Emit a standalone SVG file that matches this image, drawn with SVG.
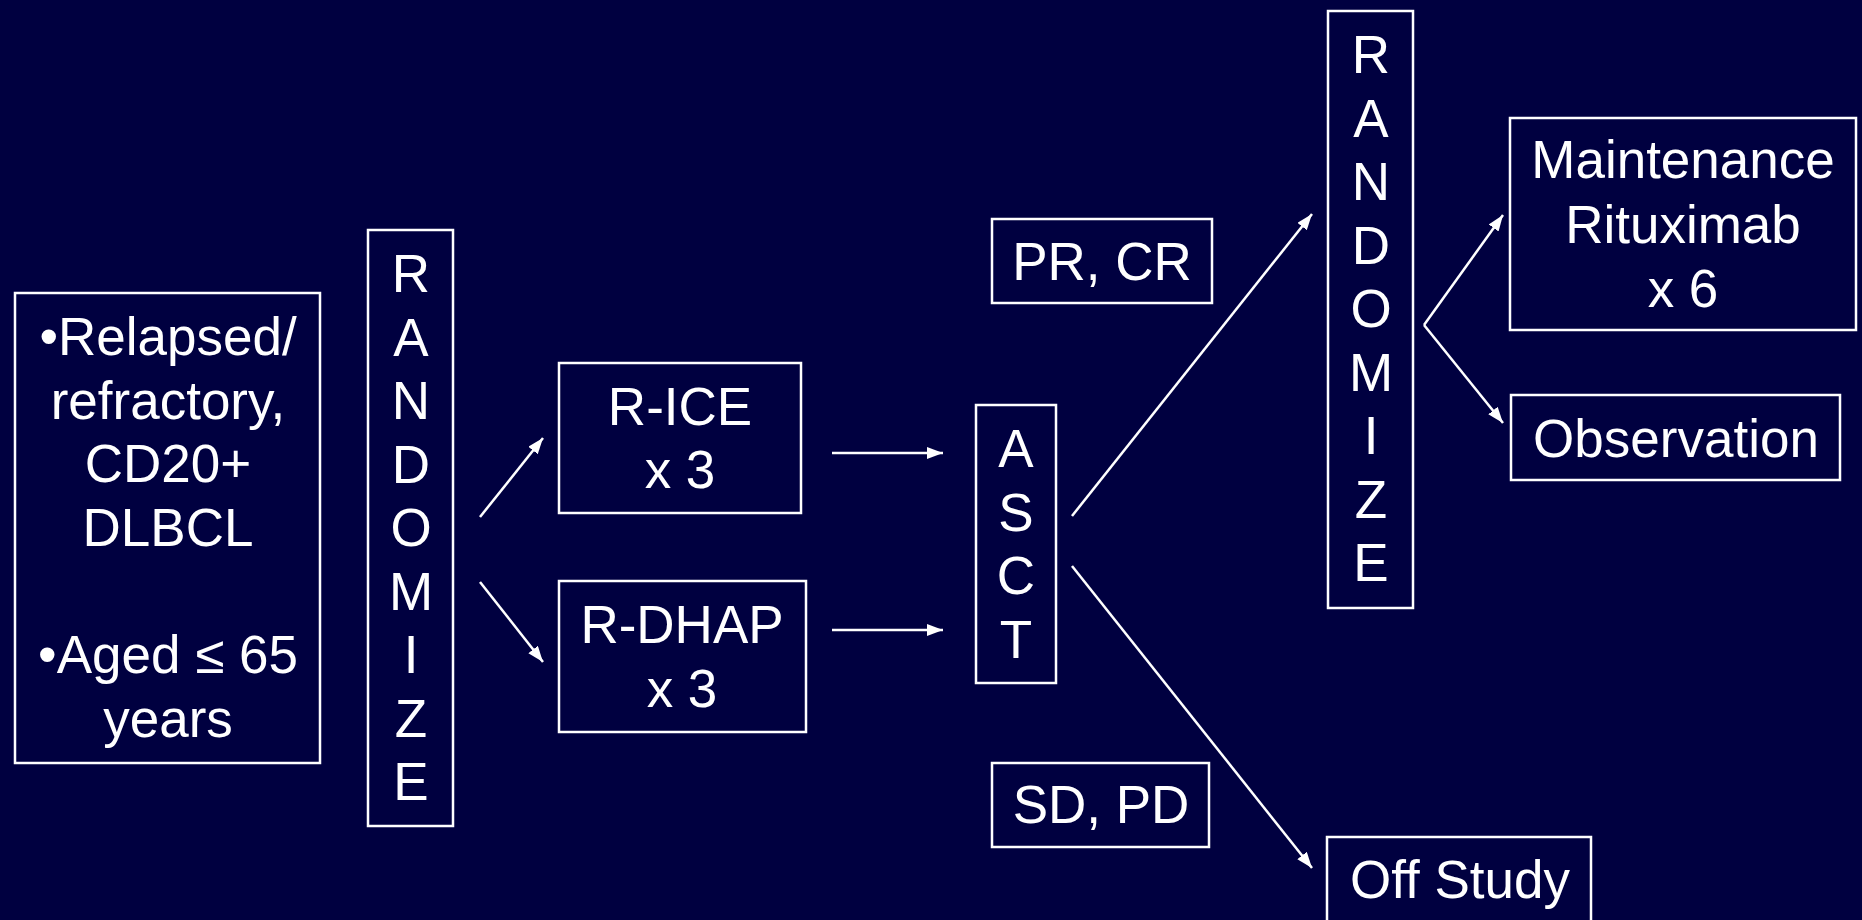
<svg xmlns="http://www.w3.org/2000/svg" width="1862" height="920" viewBox="0 0 1862 920">
<defs>
<style>
.box{fill:none;stroke:#ffffff;stroke-width:2.5}
.t{font-family:"Liberation Sans",Arial,sans-serif;font-size:53px;fill:#ffffff;text-anchor:middle}
.c{stroke:#ffffff;stroke-width:2.5;fill:none}
</style>
<marker id="ah" markerUnits="userSpaceOnUse" markerWidth="18" markerHeight="14" refX="16" refY="6" orient="auto">
<path d="M0,0 L16,6 L0,12 z" fill="#ffffff"/>
</marker>
</defs>
<rect x="0" y="0" width="1862" height="920" fill="#000040"/>
<g id="eligibility">
<rect class="box" x="15" y="293" width="305" height="470"/>
<text class="t" x="168" y="355">•Relapsed/</text>
<text class="t" x="168" y="419">refractory,</text>
<text class="t" x="168" y="482">CD20+</text>
<text class="t" x="168" y="546">DLBCL</text>
<text class="t" x="168" y="673">•Aged ≤ 65</text>
<text class="t" x="168" y="737">years</text>
</g>
<g id="randomize1">
<rect class="box" x="368" y="230" width="85" height="596"/>
<text class="t" x="411" y="292">R</text>
<text class="t" x="411" y="355.5">A</text>
<text class="t" x="411" y="419">N</text>
<text class="t" x="411" y="482.5">D</text>
<text class="t" x="411" y="546">O</text>
<text class="t" x="411" y="609.5">M</text>
<text class="t" x="411" y="673">I</text>
<text class="t" x="411" y="736.5">Z</text>
<text class="t" x="411" y="800">E</text>
</g>
<g id="rice">
<rect class="box" x="559" y="363" width="242" height="150"/>
<text class="t" x="680" y="425">R-ICE</text>
<text class="t" x="680" y="488">x 3</text>
</g>
<g id="rdhap">
<rect class="box" x="559" y="581" width="247" height="151"/>
<text class="t" x="682" y="643">R-DHAP</text>
<text class="t" x="682" y="707">x 3</text>
</g>
<g id="asct">
<rect class="box" x="976" y="405" width="80" height="278"/>
<text class="t" x="1016" y="467">A</text>
<text class="t" x="1016" y="530.5">S</text>
<text class="t" x="1016" y="594">C</text>
<text class="t" x="1016" y="657.5">T</text>
</g>
<g id="prcr">
<rect class="box" x="992" y="219" width="220" height="84"/>
<text class="t" x="1102" y="280">PR, CR</text>
</g>
<g id="sdpd">
<rect class="box" x="992" y="763" width="217" height="84"/>
<text class="t" x="1101" y="823">SD, PD</text>
</g>
<g id="randomize2">
<rect class="box" x="1328" y="11" width="85" height="597"/>
<text class="t" x="1371" y="73">R</text>
<text class="t" x="1371" y="136.5">A</text>
<text class="t" x="1371" y="200">N</text>
<text class="t" x="1371" y="263.5">D</text>
<text class="t" x="1371" y="327">O</text>
<text class="t" x="1371" y="390.5">M</text>
<text class="t" x="1371" y="454">I</text>
<text class="t" x="1371" y="517.5">Z</text>
<text class="t" x="1371" y="581">E</text>
</g>
<g id="maintenance">
<rect class="box" x="1510" y="118" width="346" height="212"/>
<text class="t" x="1683" y="178">Maintenance</text>
<text class="t" x="1683" y="243">Rituximab</text>
<text class="t" x="1683" y="307">x 6</text>
</g>
<g id="observation">
<rect class="box" x="1511" y="395" width="329" height="85"/>
<text class="t" x="1676" y="457">Observation</text>
</g>
<g id="offstudy">
<rect class="box" x="1327" y="837" width="264" height="100"/>
<text class="t" x="1460" y="898">Off Study</text>
</g>
<g id="connectors">
<line class="c" x1="480" y1="517" x2="543" y2="438" marker-end="url(#ah)"/>
<line class="c" x1="480" y1="582" x2="543" y2="662" marker-end="url(#ah)"/>
<line class="c" x1="832" y1="453" x2="943" y2="453" marker-end="url(#ah)"/>
<line class="c" x1="832" y1="630" x2="943" y2="630" marker-end="url(#ah)"/>
<line class="c" x1="1072" y1="516" x2="1312" y2="214" marker-end="url(#ah)"/>
<line class="c" x1="1072" y1="566" x2="1312" y2="868" marker-end="url(#ah)"/>
<line class="c" x1="1424" y1="325" x2="1503" y2="215" marker-end="url(#ah)"/>
<line class="c" x1="1424" y1="325" x2="1503" y2="423" marker-end="url(#ah)"/>
</g>
</svg>
